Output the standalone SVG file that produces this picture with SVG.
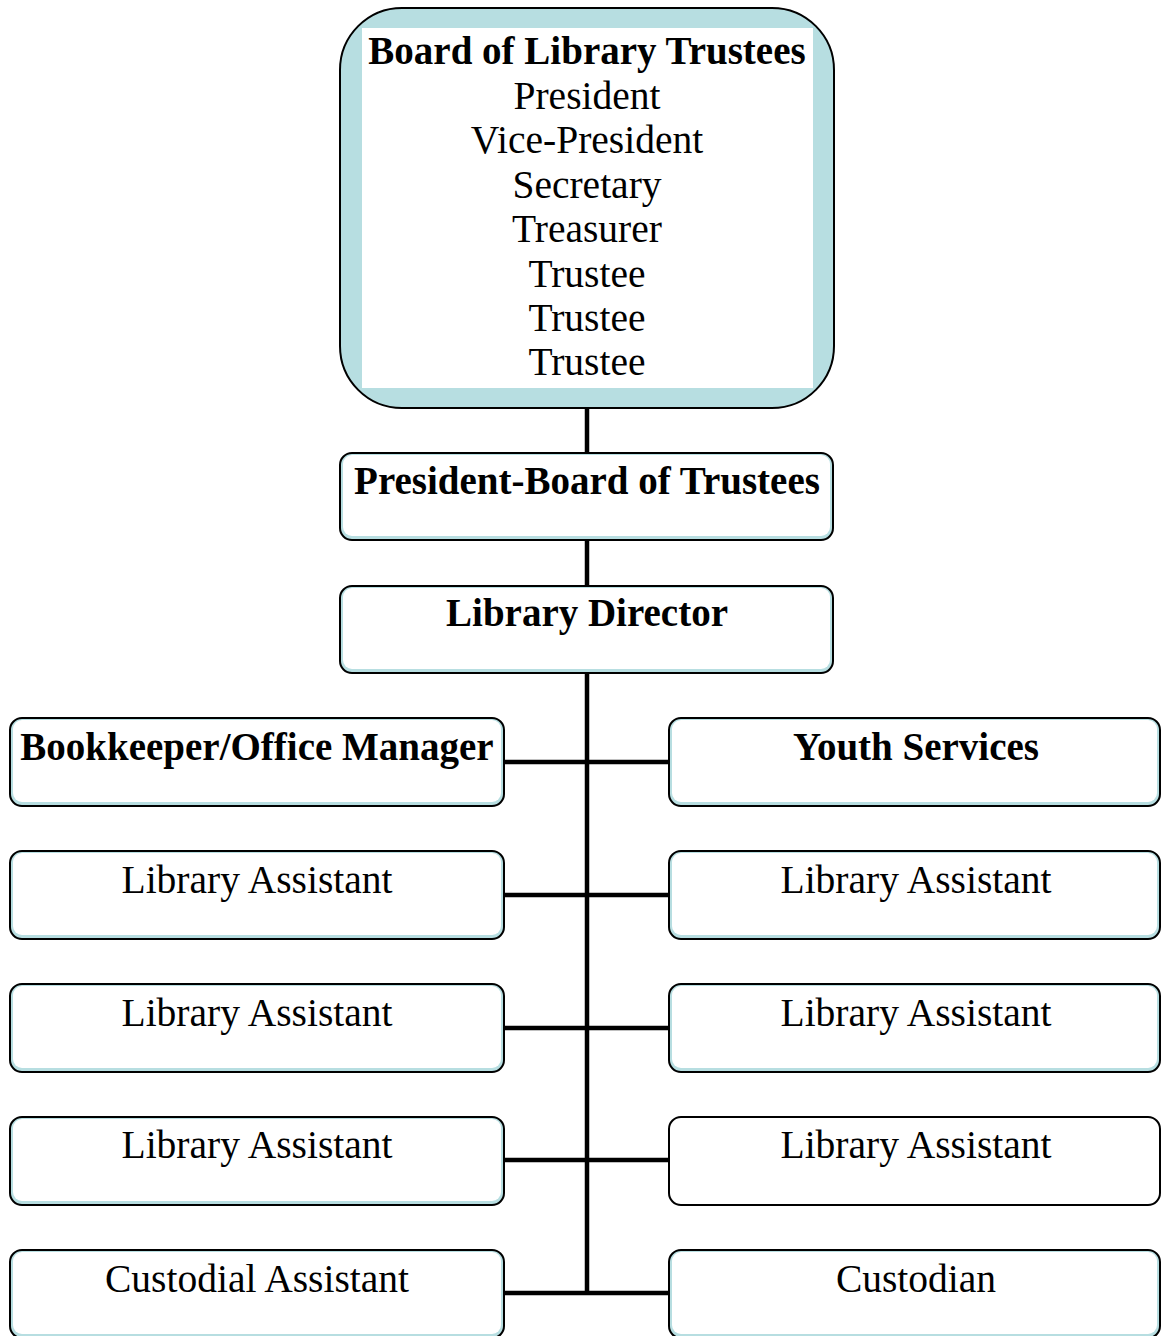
<svg xmlns="http://www.w3.org/2000/svg" width="1161" height="1336" viewBox="0 0 1161 1336">
<style>
.o{fill:#b7dee1;stroke:#000;stroke-width:2}
.w{fill:#fff;stroke:none}
.p{fill:#fff;stroke:#000;stroke-width:2}
.t{font-family:"Liberation Serif","Times New Roman",serif;font-size:39.5px;fill:#000;text-anchor:middle}
.b{font-weight:bold;font-size:39px}
.c{stroke:#000;stroke-width:4.5;fill:none}
</style>
<rect width="1161" height="1336" fill="#fff"/>
<g id="connectors">
<line class="c" x1="587" y1="407" x2="587" y2="454"/>
<line class="c" x1="587" y1="540" x2="587" y2="586"/>
<line class="c" x1="587" y1="672" x2="587" y2="1295"/>
<line class="c" x1="504" y1="762" x2="670" y2="762"/>
<line class="c" x1="504" y1="895" x2="670" y2="895"/>
<line class="c" x1="504" y1="1028" x2="670" y2="1028"/>
<line class="c" x1="504" y1="1160" x2="670" y2="1160"/>
<line class="c" x1="504" y1="1293" x2="670" y2="1293"/>
</g>
<g id="board">
<rect class="o" x="340" y="8" width="494" height="400" rx="62"/>
<rect class="w" x="362" y="28" width="451" height="360"/>
<text class="t b" x="587" y="64">Board of Library Trustees</text>
<text class="t" x="587" y="109">President</text>
<text class="t" x="587" y="153">Vice-President</text>
<text class="t" x="587" y="198">Secretary</text>
<text class="t" x="587" y="242">Treasurer</text>
<text class="t" x="587" y="287">Trustee</text>
<text class="t" x="587" y="331">Trustee</text>
<text class="t" x="587" y="375">Trustee</text>
</g>
<g id="president">
<rect class="o" x="340" y="453" width="493" height="87" rx="12"/>
<rect class="w" x="343" y="455" width="487" height="81" rx="9"/>
<text class="t b" x="587" y="494">President-Board of Trustees</text>
</g>
<g id="director">
<rect class="o" x="340" y="586" width="493" height="87" rx="12"/>
<rect class="w" x="343" y="588" width="487" height="81" rx="9"/>
<text class="t b" x="587" y="626">Library Director</text>
</g>
<g id="bookkeeper">
<rect class="o" x="10" y="718" width="494" height="88" rx="12"/>
<rect class="w" x="13" y="720" width="488" height="82" rx="9"/>
<text class="t b" x="257" y="760">Bookkeeper/Office Manager</text>
</g>
<g id="left-assistant-1">
<rect class="o" x="10" y="851" width="494" height="88" rx="12"/>
<rect class="w" x="13" y="853" width="488" height="82" rx="9"/>
<text class="t" x="257" y="893">Library Assistant</text>
</g>
<g id="left-assistant-2">
<rect class="o" x="10" y="984" width="494" height="88" rx="12"/>
<rect class="w" x="13" y="986" width="488" height="82" rx="9"/>
<text class="t" x="257" y="1026">Library Assistant</text>
</g>
<g id="left-assistant-3">
<rect class="o" x="10" y="1117" width="494" height="88" rx="12"/>
<rect class="w" x="13" y="1119" width="488" height="82" rx="9"/>
<text class="t" x="257" y="1158">Library Assistant</text>
</g>
<g id="custodial-assistant">
<rect class="o" x="10" y="1250" width="494" height="88" rx="12"/>
<rect class="w" x="13" y="1252" width="488" height="82" rx="9"/>
<text class="t" x="257" y="1292">Custodial Assistant</text>
</g>
<g id="youth-services">
<rect class="o" x="669" y="718" width="491" height="88" rx="12"/>
<rect class="w" x="672" y="720" width="485" height="82" rx="9"/>
<text class="t b" x="916" y="760">Youth Services</text>
</g>
<g id="right-assistant-1">
<rect class="o" x="669" y="851" width="491" height="88" rx="12"/>
<rect class="w" x="672" y="853" width="485" height="82" rx="9"/>
<text class="t" x="916" y="893">Library Assistant</text>
</g>
<g id="right-assistant-2">
<rect class="o" x="669" y="984" width="491" height="88" rx="12"/>
<rect class="w" x="672" y="986" width="485" height="82" rx="9"/>
<text class="t" x="916" y="1026">Library Assistant</text>
</g>
<g id="right-assistant-3">
<rect class="p" x="669" y="1117" width="491" height="88" rx="12"/>
<text class="t" x="916" y="1158">Library Assistant</text>
</g>
<g id="custodian">
<rect class="o" x="669" y="1250" width="491" height="88" rx="12"/>
<rect class="w" x="672" y="1252" width="485" height="82" rx="9"/>
<text class="t" x="916" y="1292">Custodian</text>
</g>
</svg>
